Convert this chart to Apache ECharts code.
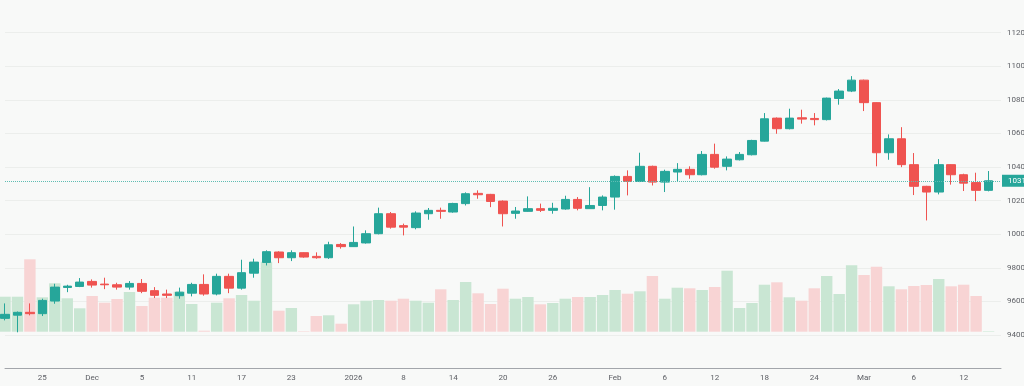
<!DOCTYPE html>
<html><head><meta charset="utf-8">
<script src="https://cdn.jsdelivr.net/npm/echarts@6/dist/echarts.min.js"></script>
<style>html,body{margin:0;padding:0;background:#f8f9f8;overflow:hidden}#c{width:1024px;height:386px}</style>
</head><body><div id="c"></div>
<script>
const dates = ['2025-11-20','2025-11-21','2025-11-24','2025-11-25','2025-11-26','2025-11-27','2025-11-28','2025-12-01','2025-12-02','2025-12-03','2025-12-04','2025-12-05','2025-12-08','2025-12-09','2025-12-10','2025-12-11','2025-12-12','2025-12-15','2025-12-16','2025-12-17','2025-12-18','2025-12-19','2025-12-22','2025-12-23','2025-12-24','2025-12-26','2025-12-29','2025-12-30','2026-01-02','2026-01-05','2026-01-06','2026-01-07','2026-01-08','2026-01-09','2026-01-12','2026-01-13','2026-01-14','2026-01-15','2026-01-16','2026-01-19','2026-01-20','2026-01-21','2026-01-22','2026-01-23','2026-01-26','2026-01-27','2026-01-28','2026-01-29','2026-01-30','2026-02-02','2026-02-03','2026-02-04','2026-02-05','2026-02-06','2026-02-09','2026-02-10','2026-02-11','2026-02-12','2026-02-13','2026-02-16','2026-02-17','2026-02-18','2026-02-19','2026-02-20','2026-02-23','2026-02-24','2026-02-25','2026-02-26','2026-02-27','2026-03-02','2026-03-03','2026-03-04','2026-03-05','2026-03-06','2026-03-09','2026-03-10','2026-03-11','2026-03-12','2026-03-13','2026-03-16'];
const opens  = [9499,9518,9535,9527,9602,9683,9689,9719,9703,9699,9685,9707,9664,9644,9634,9649,9701,9644,9749,9679,9768,9832,9894,9860,9890,9868,9860,9939,9926,9948,10003,10122,10051,10039,10122,10142,10132,10182,10243,10237,10197,10124,10136,10152,10142,10150,10207,10152,10171,10221,10344,10314,10404,10310,10370,10386,10354,10475,10404,10443,10473,10554,10691,10628,10693,10689,10682,10808,10852,10917,10783,10485,10568,10414,10285,10251,10414,10354,10307,10261];
const highs  = [9588,9540,9588,9616,9705,9699,9739,9731,9741,9711,9721,9733,9685,9670,9682,9711,9761,9765,9765,9848,9854,9904,9898,9904,9892,9892,9955,9947,10046,10023,10158,10132,10063,10136,10156,10158,10187,10249,10261,10240,10201,10162,10225,10182,10187,10229,10221,10280,10231,10350,10380,10485,10408,10384,10423,10404,10495,10539,10463,10489,10562,10721,10695,10747,10741,10721,10813,10864,10941,10920,10785,10594,10637,10483,10288,10447,10416,10360,10366,10376];
const lows   = [9487,9416,9517,9513,9586,9655,9685,9682,9673,9670,9670,9649,9620,9620,9616,9630,9634,9636,9649,9670,9741,9814,9828,9840,9860,9854,9853,9914,9924,9944,9999,10033,9993,10029,10086,10092,10128,10171,10211,10161,10046,10092,10134,10132,10122,10146,10142,10150,10142,10146,10231,10310,10290,10251,10316,10330,10350,10390,10380,10439,10469,10552,10598,10624,10658,10648,10677,10771,10846,10733,10404,10443,10399,10233,10082,10237,10295,10257,10197,10255];
const closes = [9523,9535,9527,9606,9685,9691,9715,9697,9699,9685,9707,9660,9636,9636,9655,9701,9644,9749,9679,9771,9834,9896,9860,9890,9864,9860,9937,9926,9951,10003,10122,10042,10042,10126,10142,10136,10183,10241,10235,10195,10122,10138,10152,10142,10154,10207,10154,10171,10221,10344,10314,10404,10310,10374,10386,10354,10475,10399,10447,10475,10558,10687,10628,10691,10685,10682,10810,10852,10917,10783,10485,10568,10414,10285,10251,10414,10354,10304,10261,10318];
const volumes = [35000,35000,72400,34400,48400,33400,23400,35700,29000,32700,39700,25700,34000,34000,40000,27700,1000,29000,33400,36700,31000,70000,21000,23700,500,15700,16400,8000,27400,31000,31700,31000,33000,31000,29000,42400,31700,49700,38400,27700,43000,33000,34700,27400,28700,33000,34700,34700,36700,41700,38000,40400,55700,33000,44000,43400,41700,44700,61000,23700,28700,47000,49400,34400,31000,43400,55700,37700,66400,56700,65000,45400,42400,45700,46700,52700,45400,47000,35700,500];
const tickDates = ['2025-11-25','2025-12-01','2025-12-05','2025-12-11','2025-12-17','2025-12-23','2026-01-02','2026-01-08','2026-01-14','2026-01-20','2026-01-26','2026-02-02','2026-02-06','2026-02-12','2026-02-18','2026-02-24','2026-03-02','2026-03-06','2026-03-12'];
const tickTexts = ['25','Dec','5','11','17','23','2026','8','14','20','26','Feb','6','12','18','24','Mar','6','12'];

const UP = '#26a69a', DOWN = '#ef5350';
const VUP = '#c9e6d3', VDOWN = '#f8d4d4';
const lastPrice = closes[closes.length - 1];

const candleData = dates.map((d, i) => [i, opens[i], closes[i], lows[i], highs[i]]);
const volData = dates.map((d, i) => ({
  value: [i, volumes[i]],
  itemStyle: { color: closes[i] >= opens[i] ? VUP : VDOWN }
}));

const chart = echarts.init(document.getElementById('c'), null, { renderer: 'canvas' });
const font = 'Roboto, "Liberation Sans", sans-serif';
chart.setOption({
  animation: false,
  backgroundColor: '#f8f9f8',
  grid: [
    { left: 5, right: 23, top: -1, bottom: 17.4, containLabel: false, outerBoundsMode: 'none' },
    { left: 5, right: 23, bottom: 54.3, height: 100, containLabel: false, outerBoundsMode: 'none' }
  ],
  xAxis: [
    {
      type: 'value', gridIndex: 0, min: 0, max: dates.length, interval: 1,
      axisLine: { show: true, lineStyle: { color: '#a3a6ab', width: 1 } },
      axisTick: { show: false },
      splitLine: { show: false },
      axisLabel: {
        color: '#5e6066', fontSize: 8, fontFamily: font, margin: 5,
        showMinLabel: true, showMaxLabel: true,
        formatter: v => { const k = tickDates.indexOf(dates[v]); return k >= 0 ? tickTexts[k] : ''; }
      }
    },
    {
      type: 'value', gridIndex: 1, min: 0, max: dates.length,
      show: false
    }
  ],
  yAxis: [
    {
      type: 'value', gridIndex: 0, position: 'right', min: 9200, max: 11400, interval: 200,
      axisLine: { show: false }, axisTick: { show: false },
      splitLine: { show: true, lineStyle: { color: '#eceeec', width: 1 } },
      axisLabel: {
        color: '#5e6066', fontSize: 8, fontFamily: font, margin: 6, align: 'left',
        formatter: v => (v < 9400 || v > 11200) ? '' : String(v)
      }
    },
    {
      type: 'value', gridIndex: 1, min: 0, max: 100000, show: false
    }
  ],
  series: [
    {
      type: 'bar', xAxisIndex: 1, yAxisIndex: 1, data: volData,
      barWidth: 11.4, z: 1, clip: true
    },
    {
      type: 'candlestick', xAxisIndex: 0, yAxisIndex: 0, data: candleData,
      encode: { x: 0, y: [1, 2, 3, 4] },
      barWidth: 9, z: 3, clip: true,
      itemStyle: { color: UP, color0: DOWN, borderColor: UP, borderColor0: DOWN, borderWidth: 1 },
      markLine: {
        silent: true, symbol: ['none', 'none'],
        lineStyle: { color: '#5fbdb3', type: 'dotted', width: 1 },
        label: {
          show: true, position: 'end', distance: 1,
          backgroundColor: UP, color: '#fff', fontSize: 8, fontFamily: font,
          padding: [2, 4, 2, 6], formatter: () => String(lastPrice)
        },
        data: [{ yAxis: lastPrice }]
      }
    }
  ]
});
</script></body></html>
